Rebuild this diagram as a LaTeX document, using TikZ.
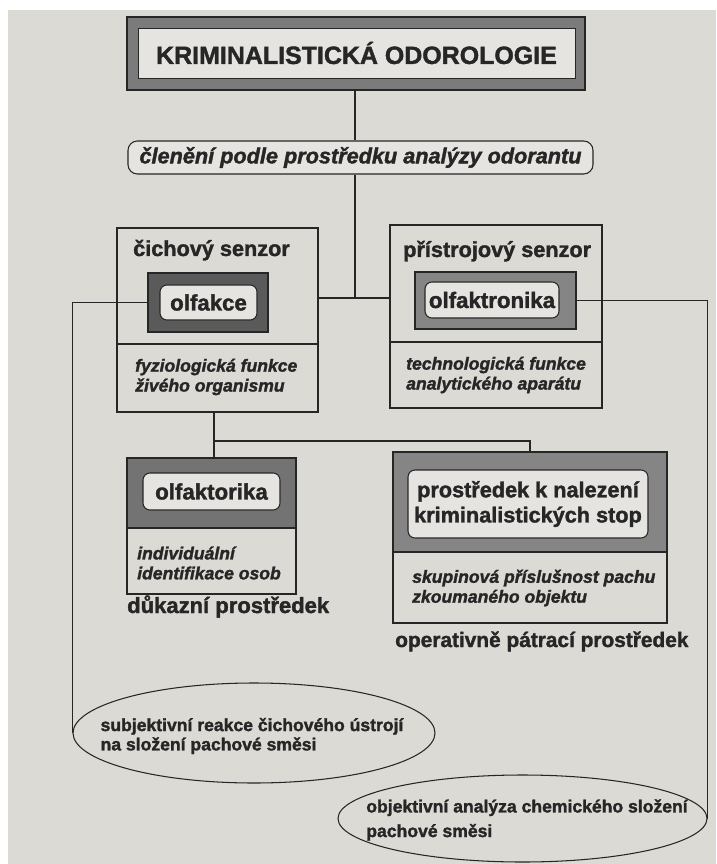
\documentclass[tikz,border=0pt]{standalone}
\usepackage{fontspec}
\setmainfont{Liberation Sans}[BoldFeatures={FakeBold=1.6},BoldItalicFeatures={FakeBold=1.6}]
\usetikzlibrary{shapes.geometric,calc}
\definecolor{odorPaper}{HTML}{DCDAD5}
\definecolor{odorLight}{HTML}{E6E4E0}
\definecolor{odorDark}{HTML}{5A5A5A}
\definecolor{odorMid}{HTML}{858585}
\definecolor{odorInk}{HTML}{262626}
\def\odpx{0.3mm}

\begin{document}
\begin{tikzpicture}[x=0.3mm,y=-0.3mm,
    every node/.style={text=odorInk},
    frame/.style={draw=odorInk,line width=0.9pt,inner sep=0pt},
    pill/.style={frame,fill=odorLight,rounded corners=6pt,font=\fontsize{19}{21}\selectfont\bfseries},
    heading/.style={font=\fontsize{18.5}{20}\selectfont\bfseries,inner sep=0pt,anchor=base west},
    remark/.style={font=\fontsize{15}{17}\selectfont\bfseries\itshape,align=left,inner sep=0pt,anchor=west},
    oval/.style={draw=odorInk,line width=0.9pt,ellipse,inner sep=0pt},
    ovaltext/.style={font=\fontsize{15}{16.5}\selectfont\bfseries,align=left,inner sep=0pt},
    wire/.style={draw=odorInk,line width=0.9pt}]
  % paper
  \fill[white] (0,0) rectangle (716,864);
  \fill[odorPaper] (8,10) rectangle (716,864);
  \useasboundingbox (0,0) rectangle (716,864);

  % title and division
  \node[frame,fill=odorDark!80,minimum width=458*\odpx,minimum height=73*\odpx] (titleF) at (356,53.5) {};
  \node[frame,fill=odorLight,line width=0.7pt,minimum width=437*\odpx,minimum height=50*\odpx,
        font=\fontsize{21.3}{24}\selectfont\bfseries] (title) at (356.5,53) {KRIMINALISTICKÁ ODOROLOGIE};
  \node[pill,font=\fontsize{18.5}{20}\selectfont\bfseries\itshape,rounded corners=8pt,
        minimum width=465*\odpx,minimum height=33*\odpx] (sub) at (360.5,157.5) {členění podle prostředku analýzy odorantu};

  % sensors
  \node[frame,minimum width=201*\odpx,minimum height=116*\odpx] (cich) at (217.5,286) {};
  \node[frame,minimum width=201*\odpx,minimum height=68*\odpx] (cichD) at (217.5,378) {};
  \node[heading] (cichT) at (133,256) {čichový senzor};
  \node[frame,fill=odorDark,minimum width=120*\odpx,minimum height=59*\odpx] (olfakceF) at (208,302.5) {};
  \node[pill,minimum width=97*\odpx,minimum height=35*\odpx] (olfakce) at (208.5,302.5) {olfakce};
  \node[remark] (cichR) at (135,377) {fyziologická funkce\\živého organismu};

  \node[frame,minimum width=212*\odpx,minimum height=117*\odpx] (pristroj) at (496,283.5) {};
  \node[frame,minimum width=212*\odpx,minimum height=66*\odpx] (pristrojD) at (496,375) {};
  \node[heading] (pristrojT) at (403,257) {přístrojový senzor};
  \node[frame,fill=odorMid,minimum width=161*\odpx,minimum height=57*\odpx] (olfaktronikaF) at (495.5,300.5) {};
  \node[pill,minimum width=134*\odpx,minimum height=36*\odpx] (olfaktronika) at (492,300) {olfaktronika};
  \node[remark] (pristrojR) at (406,375) {technologická funkce\\analytického aparátu};

  % means
  \node[frame,fill=odorDark!85,minimum width=169*\odpx,minimum height=70*\odpx] (olfaktorikaF) at (211.5,493) {};
  \node[frame,minimum width=169*\odpx,minimum height=66*\odpx] (olfaktorikaD) at (211.5,561) {};
  \node[pill,minimum width=137*\odpx,minimum height=37*\odpx] (olfaktorika) at (211.5,491.5) {olfaktorika};
  \node[remark] (olfaktorikaR) at (137,563) {individuální\\identifikace osob};
  \node[heading,font=\fontsize{18.8}{20}\selectfont\bfseries] (dukaz) at (127,613) {důkazní prostředek};

  \node[frame,fill=odorMid,minimum width=274*\odpx,minimum height=100*\odpx] (stopyF) at (530,502) {};
  \node[frame,minimum width=274*\odpx,minimum height=71*\odpx] (stopyD) at (530,587.5) {};
  \node[pill,align=center,font=\fontsize{18.5}{21.5}\selectfont\bfseries,
        minimum width=240*\odpx,minimum height=68*\odpx] (stopy) at (528,504) {prostředek k nalezení\\kriminalistických stop};
  \node[remark] (stopyR) at (412,588) {skupinová příslušnost pachu\\zkoumaného objektu};
  \node[heading,font=\fontsize{17.8}{20}\selectfont\bfseries] (operativ) at (395,647) {operativně pátrací prostředek};

  % analyses
  \node[oval,minimum width=362*\odpx,minimum height=100*\odpx] (subjE) at (254,733) {};
  \node[ovaltext] (subj) at (252,736) {subjektivní reakce čichového ústrojí\\na složení pachové směsi};
  \node[oval,minimum width=369*\odpx,minimum height=87*\odpx] (objE) at (522.5,818.5) {};
  \node[ovaltext,font=\fontsize{15}{21}\selectfont\bfseries] (obj) at (527,820) {objektivní analýza chemického složení\\pachové směsi};

  % connectors
  \coordinate (spine) at (355,298);
  \draw[wire] (titleF.south -| spine) -- (sub.north -| spine);
  \draw[wire] (sub.south -| spine) -- (spine);
  \draw[wire] (cich.east |- spine) -- (pristroj.west |- spine);
  \draw[wire] (olfakceF.west) -| (subjE.west);
  \draw[wire] (olfaktronikaF.east) -| (objE.east);
  \coordinate (fork) at (214,441);
  \draw[wire] (cichD.south -| fork) -- (olfaktorikaF.north -| fork);
  \draw[wire] (fork) -| (stopyF.north);
\end{tikzpicture}
\end{document}
